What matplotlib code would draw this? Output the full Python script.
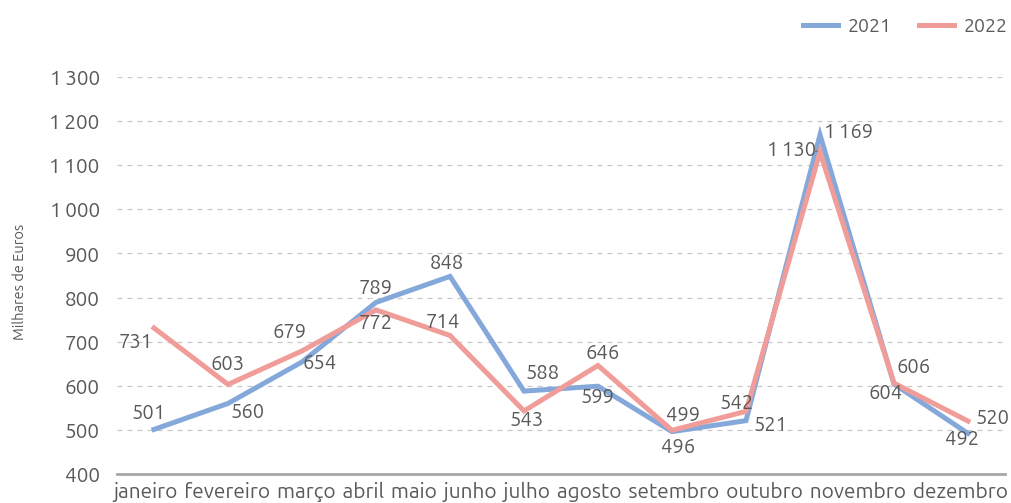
import matplotlib.pyplot as plt
from matplotlib import font_manager

months = ['janeiro', 'fevereiro', 'março', 'abril', 'maio', 'junho', 'julho',
          'agosto', 'setembro', 'outubro', 'novembro', 'dezembro']
values_2021 = [501, 560, 654, 789, 848, 588, 599, 496, 521, 1169, 604, 492]
values_2022 = [731, 603, 679, 772, 714, 543, 646, 499, 542, 1130, 606, 520]
y_ticks = [400, 500, 600, 700, 800, 900, 1000, 1100, 1200, 1300]

# label offsets in pixels (dx, dy)
offsets_2021 = [(-5, 17), (20, -8), (18, -1), (0, 15), (-3, 14), (19, 18),
                (0, -11), (6, -15), (25, -4), (28, 3), (-8, -9), (-6, -5)]
offsets_2022 = [(-18, -14), (0, 21), (-13, 19), (0, -13), (-7, 14), (3, -9),
                (5, 13), (11, 15), (-9, 9), (-28, 2), (20, 16), (25, 3)]

names = {f.name for f in font_manager.fontManager.ttflist}
main_font = 'Ubuntu' if 'Ubuntu' in names else 'DejaVu Sans'
plt.rcParams['font.family'] = [main_font, 'DejaVu Sans']

text_color = '#595959'
blue = '#84a8da'
red = '#f09c98'


def fmt(v):
    return f'{v:,}'.replace(',', '\u2009')


fig = plt.figure(figsize=(10.11, 5.03), dpi=100)
ax = fig.add_axes([117 / 1011, 1 - 474 / 503, 888 / 1011, (474 - 77) / 503])

x = list(range(len(months)))
ax.plot(x, values_2021, color=blue, lw=3.6, label='2021', solid_joinstyle='miter', zorder=3)
ax.plot(x, values_2022, color=red, lw=3.6, label='2022', solid_joinstyle='miter', zorder=4)

for i, v in enumerate(values_2021):
    dx, dy = offsets_2021[i]
    ax.annotate(fmt(v), (i, v), xytext=(dx, dy), textcoords='offset pixels',
                ha='center', va='center', fontsize=14.5, color=text_color, zorder=5)
for i, v in enumerate(values_2022):
    dx, dy = offsets_2022[i]
    ax.annotate(fmt(v), (i, v), xytext=(dx, dy), textcoords='offset pixels',
                ha='center', va='center', fontsize=14.5, color=text_color, zorder=5)

# leader line of the november 2022 label
ax.annotate('', (9, values_2022[9]), xytext=(-8, 2), textcoords='offset pixels',
            arrowprops=dict(arrowstyle='-', color='#7f7f7f', lw=1.2), zorder=5)

ax.set_xlim(-0.5, 11.5)
ax.set_ylim(400, 1300)
ax.set_yticks(y_ticks)
ax.set_yticklabels([fmt(t) for t in y_ticks])
ax.set_xticks(x)
ax.set_xticklabels([])
ax.tick_params(axis='y', length=0, pad=12.5, labelsize=15, labelcolor=text_color)
ax.tick_params(axis='x', length=0)

# month names sit packed together under the axis, as in the source chart
fig.text(113 / 1011, 1 - 492 / 503, ' \u200a'.join(months), ha='left', va='center',
         fontsize=15, color=text_color)

for t in y_ticks[1:]:
    ax.axhline(t, color='#c8c8c8', lw=0.9, ls=(0, (4, 4)), zorder=1)

for s in ['left', 'right', 'top']:
    ax.spines[s].set_visible(False)
ax.spines['bottom'].set_color('#a6a6a6')
ax.spines['bottom'].set_linewidth(2)

ax.set_ylabel('Milhares de Euros', fontsize=10.5, color=text_color)
ax.yaxis.set_label_coords(-90 / 888, 0.484)

fig.legend(loc='center right', bbox_to_anchor=(1008 / 1011, 1 - 26 / 503), ncol=2,
           frameon=False, fontsize=14, labelcolor=text_color, handlelength=1.8,
           columnspacing=1.4, handletextpad=0.5, borderpad=0, borderaxespad=0)

fig.savefig('out.png', dpi=100)
